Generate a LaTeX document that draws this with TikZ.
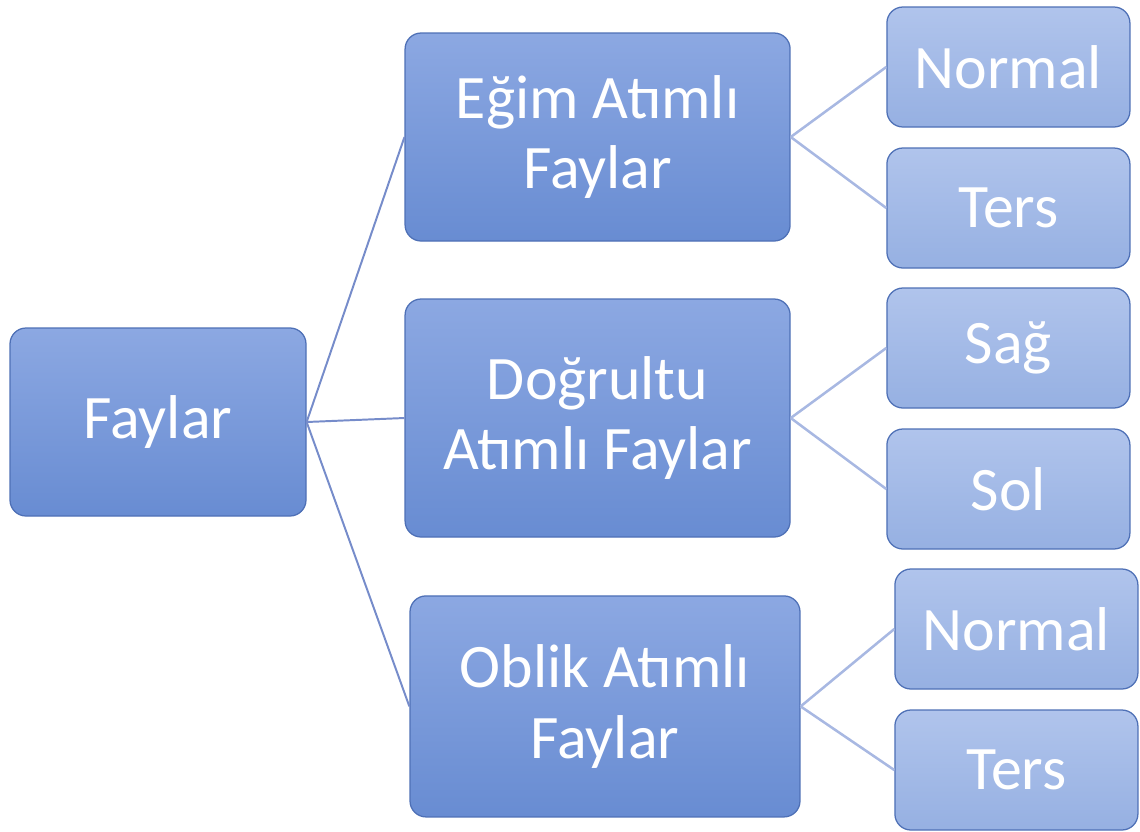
\documentclass[tikz,border=0pt]{standalone}
\usepackage{fontspec}
\setmainfont{Carlito}
\definecolor{boxtop}{RGB}{140,168,226}
\definecolor{boxbot}{RGB}{104,140,210}
\definecolor{leaftop}{RGB}{176,196,236}
\definecolor{leafbot}{RGB}{150,176,226}
\definecolor{boxline}{RGB}{78,112,182}
\definecolor{linkdark}{RGB}{118,140,202}
\definecolor{linklight}{RGB}{168,184,226}

\begin{document}
\begin{tikzpicture}[
    bigbox/.style={rectangle, rounded corners=0.4cm, draw=boxline, line width=0.9pt,
      top color=boxtop, bottom color=boxbot, text=white, align=center,
      font=\fontsize{44}{50}\selectfont},
    leafbox/.style={bigbox, top color=leaftop, bottom color=leafbot,
      minimum width=6.075cm, minimum height=3cm},
    link/.style={draw=linkdark, line width=1.4pt},
    sublink/.style={draw=linklight, line width=1.8pt}]
      \useasboundingbox (0,0) rectangle (28.5,-20.775);

      % root
      \node at (3.95,-10.55)
      [bigbox, minimum width=7.4cm, minimum height=4.7cm, name=faylar]
      {Faylar};

      % middle column
      \node at (14.94,-3.425)
      [bigbox, minimum width=9.625cm, minimum height=5.2cm, name=egim]
      {Eğim Atımlı\\Faylar};

      \node at (14.94,-10.45)
      [bigbox, minimum width=9.625cm, minimum height=5.95cm, name=dogrultu]
      {Doğrultu\\Atımlı Faylar};

      \node at (15.125,-17.66)
      [bigbox, minimum width=9.75cm, minimum height=5.525cm, name=oblik]
      {Oblik Atımlı\\Faylar};

      % leaves
      \node at (25.21,-1.675) [leafbox, name=egimnormal] {Normal};
      \node at (25.21,-5.2) [leafbox, name=egimters] {Ters};
      \node at (25.21,-8.7) [leafbox, name=sag] {Sağ};
      \node at (25.21,-12.225) [leafbox, name=sol] {Sol};
      \node at (25.41,-15.725) [leafbox, name=obliknormal] {Normal};
      \node at (25.41,-19.25) [leafbox, name=oblikters] {Ters};

      \draw [link] (faylar.east) -- (egim.west);
      \draw [link] (faylar.east) -- (dogrultu.west);
      \draw [link] (faylar.east) -- (oblik.west);

      \draw [sublink] (egim.east) -- (egimnormal.west);
      \draw [sublink] (egim.east) -- (egimters.west);
      \draw [sublink] (dogrultu.east) -- (sag.west);
      \draw [sublink] (dogrultu.east) -- (sol.west);
      \draw [sublink] (oblik.east) -- (obliknormal.west);
      \draw [sublink] (oblik.east) -- (oblikters.west);
\end{tikzpicture}
\end{document}
